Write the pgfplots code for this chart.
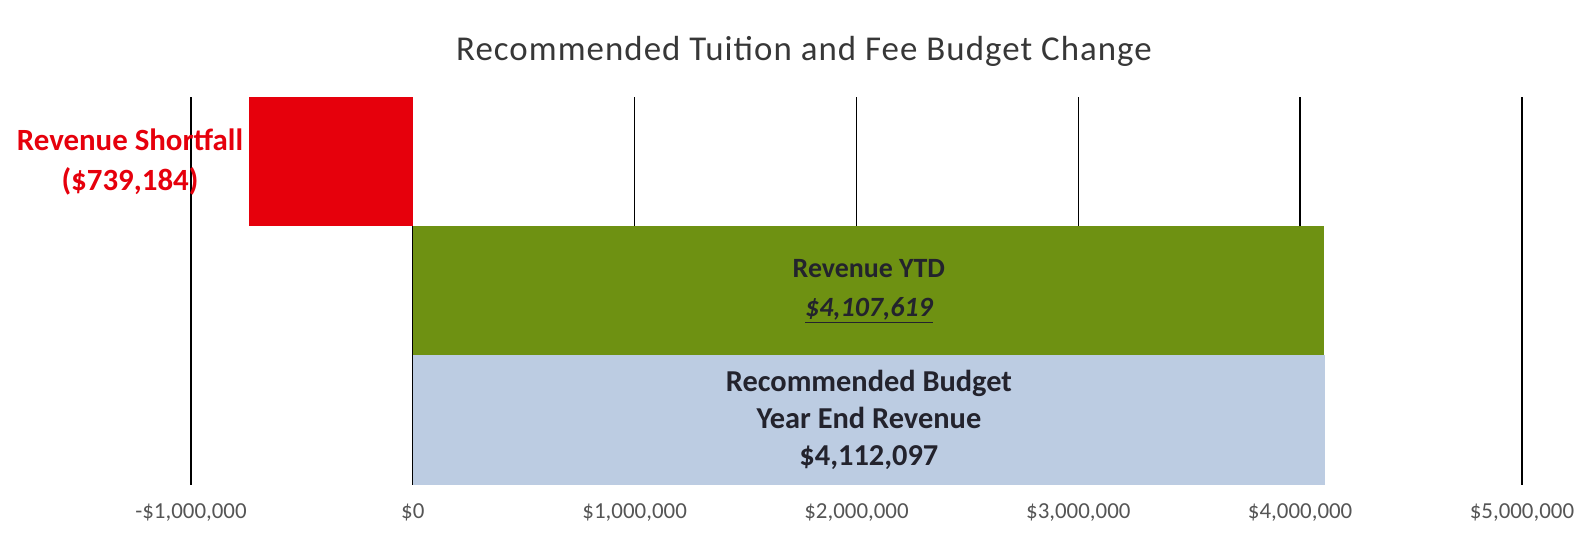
\documentclass[border=0pt]{standalone}
\usepackage{fontspec}
\setmainfont{Carlito}
\newfontfamily\titlefont[LetterSpace=3]{Carlito}
\usepackage{pgfplots}
\pgfplotsset{compat=1.18}
\definecolor{shortred}{RGB}{230,0,12}
\definecolor{ytdgreen}{RGB}{110,145,18}
\definecolor{budgetblue}{RGB}{188,204,226}
\definecolor{titlegray}{RGB}{55,55,55}
\definecolor{tickgray}{RGB}{85,85,85}
\definecolor{labeldark}{RGB}{35,35,45}
\begin{document}
\begin{tikzpicture}
\begin{axis}[
  scale only axis,
  width=1331bp, height=387bp,
  xmin=-1000000, xmax=5000000,
  ymin=-0.5, ymax=2.5,
  xbar, bar width=1, bar shift=0pt,
  xtick={-1000000,0,1000000,2000000,3000000,4000000,5000000},
  xticklabels={{-\$1,000,000},{\$0},{\$1,000,000},{\$2,000,000},{\$3,000,000},{\$4,000,000},{\$5,000,000}},
  scaled x ticks=false,
  xticklabel style={font=\fontsize{23}{26}\selectfont, text=tickgray, anchor=base, yshift=-34bp},
  ytick=\empty,
  major tick length=0pt,
  axis line style={draw=none},
  xmajorgrids,
  grid style={black, line width=1.3bp},
  clip=false,
  title={Recommended Tuition and Fee Budget Change},
  title style={at={(0.4606,1)}, anchor=base, yshift=31bp, font=\titlefont\fontsize{35}{40}\selectfont, text=titlegray},
]
\addplot[fill=budgetblue, draw=none] coordinates {(4112097,0)};
\addplot[fill=ytdgreen, draw=none] coordinates {(4107619,1)};
\addplot[fill=shortred, draw=none] coordinates {(-739184,2)};
\node[align=center, text=shortred, font=\fontsize{31}{40}\selectfont\bfseries] at (axis cs:-1275000,2) {Revenue Shortfall\\(\$739,184)};
\node[align=center, text=labeldark, font=\fontsize{28}{39}\selectfont\bfseries] at (axis cs:2056000,1) {Revenue YTD\\\underline{\itshape\$4,107,619}};
\node[align=center, text=labeldark, font=\fontsize{30.5}{37}\selectfont\bfseries] at (axis cs:2056000,0) {Recommended Budget\\Year End Revenue\\\$4,112,097};
\end{axis}
\pgfresetboundingbox
\path (-191bp,-51.5bp) rectangle (1390bp,484.5bp);
\end{tikzpicture}
\end{document}
